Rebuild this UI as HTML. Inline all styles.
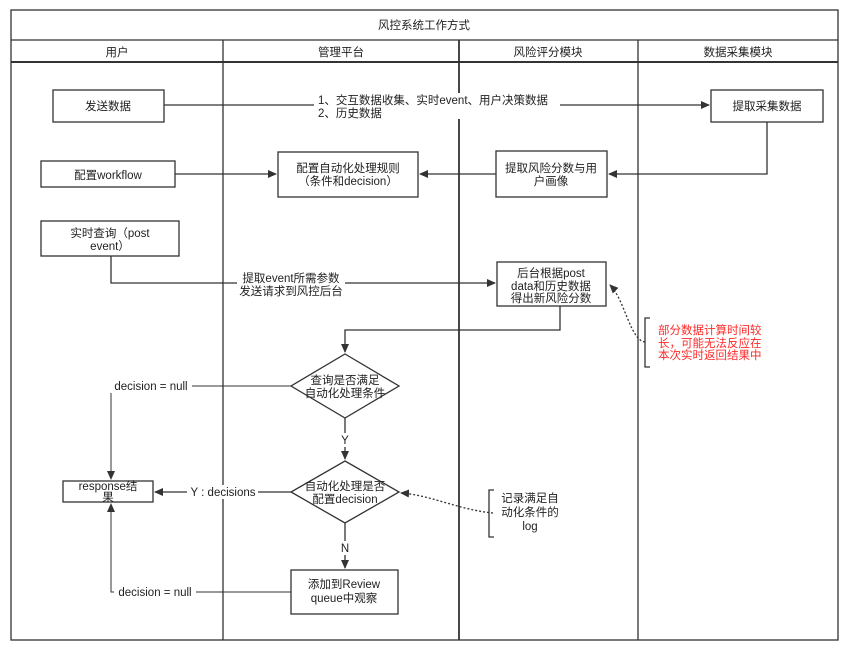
<!DOCTYPE html>
<html><head><meta charset="utf-8"><style>
body{margin:0;background:#fff;}
svg text{font-family:"Liberation Sans","Noto Sans CJK SC",sans-serif;font-size:11.5px;fill:#222;}
</style></head><body>
<svg width="857" height="656" viewBox="0 0 857 656" xmlns="http://www.w3.org/2000/svg">
<defs><marker id="a" markerWidth="10" markerHeight="10" refX="8" refY="4" orient="auto" markerUnits="userSpaceOnUse"><path d="M0,0 L9,4 L0,8 Z" fill="#333"/></marker></defs>
<g fill="none" stroke="#333" stroke-width="1.3">
<rect x="11" y="10" width="827" height="630"/>
<line x1="11" y1="40" x2="838" y2="40"/>
<line x1="11" y1="62" x2="838" y2="62" stroke-width="2"/>
<line x1="223" y1="40" x2="223" y2="640"/>
<line x1="459" y1="40" x2="459" y2="640" stroke-width="1.8"/>
<line x1="638" y1="40" x2="638" y2="640"/>
<rect x="53" y="90" width="111" height="32"/>
<rect x="711" y="90" width="112" height="32"/>
<rect x="41" y="161" width="134" height="26"/>
<rect x="278" y="152" width="140" height="45"/>
<rect x="496" y="151" width="111" height="46"/>
<rect x="41" y="221" width="138" height="35"/>
<rect x="497" y="262" width="109" height="44"/>
<rect x="63" y="481" width="90" height="21"/>
<rect x="291" y="570" width="107" height="44"/>
<polygon points="345,354 399,386 345,418 291,386"/>
<polygon points="345,461 399,492 345,523 291,492"/>
<line x1="164" y1="105" x2="709" y2="105" marker-end="url(#a)"/>
<line x1="175" y1="174" x2="276" y2="174" marker-end="url(#a)"/>
<polyline points="767,122 767,174 609,174" marker-end="url(#a)"/>
<line x1="496" y1="174" x2="420" y2="174" marker-end="url(#a)"/>
<polyline points="111,256 111,283 495,283" marker-end="url(#a)"/>
<polyline points="560,306 560,330 345,330 345,352" marker-end="url(#a)"/>
<polyline points="291,386 111,386 111,479" stroke-width="1" marker-end="url(#a)"/>
<line x1="345" y1="418" x2="345" y2="459" marker-end="url(#a)"/>
<line x1="291" y1="492" x2="155" y2="492" marker-end="url(#a)"/>
<line x1="345" y1="523" x2="345" y2="568" marker-end="url(#a)"/>
<polyline points="291,592 111,592 111,504" marker-end="url(#a)" stroke-width="1"/>
<path d="M645,342 C630,340 625,300 610,285" stroke-dasharray="2,2" marker-end="url(#a)"/>
<path d="M493,513 C460,510 430,495 401,493" stroke-dasharray="2,2" marker-end="url(#a)"/>
<path d="M650,318 L645,318 L645,367 L650,367"/>
<path d="M494,490 L489,490 L489,537 L494,537"/>
</g>
<g fill="#fff">
<rect x="314" y="93" width="246" height="26"/>
<rect x="237" y="270" width="108" height="28"/>
<rect x="110" y="379" width="82" height="14"/>
<rect x="187" y="485" width="71" height="14"/>
<rect x="114" y="585" width="82" height="14"/>
<rect x="339" y="433" width="12" height="14"/>
<rect x="339" y="541" width="12" height="14"/>
</g>
<g text-anchor="middle">
<text x="424" y="29">风控系统工作方式</text>
<text x="117" y="56">用户</text>
<text x="341" y="56">管理平台</text>
<text x="548" y="56">风险评分模块</text>
<text x="738" y="56">数据采集模块</text>
<text x="108" y="110">发送数据</text>
<text x="767" y="110">提取采集数据</text>
<text x="108" y="179">配置workflow</text>
<text x="348" y="172">配置自动化处理规则</text>
<text x="348" y="185">（条件和decision）</text>
<text x="551" y="172">提取风险分数与用</text>
<text x="551" y="185">户画像</text>
<text x="110" y="237">实时查询（post</text>
<text x="110" y="250">event）</text>
<text x="551" y="277">后台根据post</text>
<text x="551" y="290">data和历史数据</text>
<text x="551" y="302">得出新风险分数</text>
<text x="291" y="282">提取event所需参数</text>
<text x="291" y="295">发送请求到风控后台</text>
<text x="345" y="384">查询是否满足</text>
<text x="345" y="397">自动化处理条件</text>
<text x="345" y="490">自动化处理是否</text>
<text x="345" y="503">配置decision</text>
<text x="108" y="490">response结</text>
<text x="108" y="501">果</text>
<text x="344" y="588">添加到Review</text>
<text x="344" y="602">queue中观察</text>
<text x="151" y="390">decision = null</text>
<text x="155" y="596">decision = null</text>
<text x="223" y="496">Y : decisions</text>
<text x="345" y="444">Y</text>
<text x="345" y="552">N</text>
<text x="530" y="502">记录满足自</text>
<text x="530" y="516">动化条件的</text>
<text x="530" y="530">log</text>
</g>
<text x="318" y="104">1、交互数据收集、实时event、用户决策数据</text>
<text x="318" y="117">2、历史数据</text>
<text x="658" y="334" style="fill:#ff2a2a">部分数据计算时间较</text>
<text x="658" y="347" style="fill:#ff2a2a">长，可能无法反应在</text>
<text x="658" y="359" style="fill:#ff2a2a">本次实时返回结果中</text>
</svg>
</body></html>
